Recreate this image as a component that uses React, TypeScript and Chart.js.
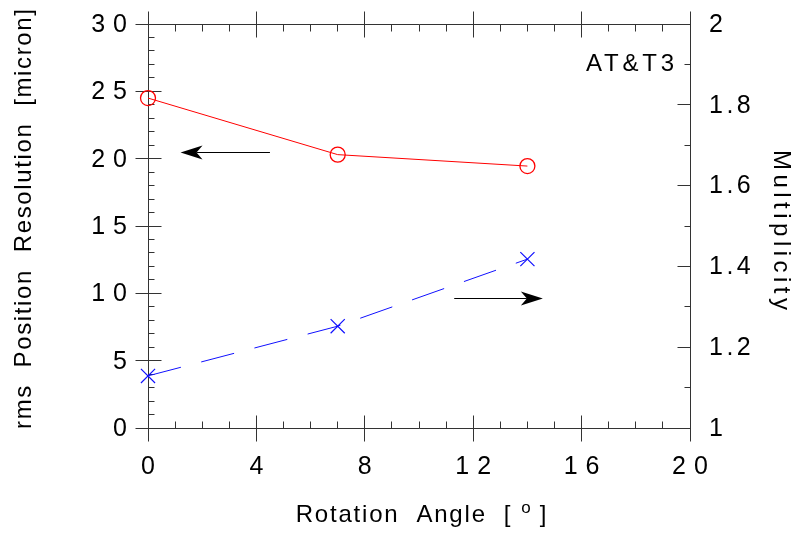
import { useEffect, useRef } from "react";
import { Chart, registerables } from "chart.js";

Chart.register(...registerables);

// ---- data ----
const rotationAngles = [0, 7, 14];
const rmsResolution = [24.5, 20.3, 19.45];
const multiplicity = [1.129, 1.252, 1.418];

const xTickValues = [0, 4, 8, 12, 16, 20];
const xTickLabels = ["0", "4", "8", "12", "16", "20"];
const leftTickValues = [0, 5, 10, 15, 20, 25, 30];
const leftTickLabels = ["0", "5", "10", "15", "20", "25", "30"];
const rightTickValues = [1, 1.2, 1.4, 1.6, 1.8, 2];
const rightTickLabels = ["1", "1.2", "1.4", "1.6", "1.8", "2"];
const xMinorValues = [1, 2, 3, 5, 6, 7, 9, 10, 11, 13, 14, 15, 17, 18, 19];
const leftMinorValues = [1, 2, 3, 4, 6, 7, 8, 9, 11, 12, 13, 14, 16, 17, 18, 19, 21, 22, 23, 24, 26, 27, 28, 29];
const rightMinorValues = [1.1, 1.3, 1.5, 1.7, 1.9];

// arrows: [xFrom, xTo, y] in data units
const leftArrow = [4.5, 1.2, 20.5]; // on left axis
const rightArrow = [11.3, 14.57, 1.321]; // on right axis

const xTitle = "Rotation  Angle  [";
const xTitleSup = "o";
const xTitleEnd = "]";
const leftTitle = "rms  Position  Resolution  [micron]";
const rightTitle = "Multiplicity";
const tag = "AT&T3";

const FONT = '"Liberation Sans", Arial, Helvetica, sans-serif';
const AXIS = "#333333";

function measure(ctx: CanvasRenderingContext2D, s: string, size: number) {
  ctx.font = `${size}px ${FONT}`;
  (ctx as any).letterSpacing = "0px";
  return ctx.measureText(s).width;
}

function drawSpaced(
  ctx: CanvasRenderingContext2D,
  s: string,
  x: number,
  y: number,
  size: number,
  ls: number,
  align: "left" | "right" | "center"
) {
  const w0 = measure(ctx, s, size);
  const w = w0 + ls * (s.length - 1);
  const sx = align === "left" ? x : align === "right" ? x - w : x - w / 2;
  (ctx as any).letterSpacing = `${ls}px`;
  ctx.textAlign = "left";
  ctx.fillText(s, sx, y);
  (ctx as any).letterSpacing = "0px";
  return w;
}

function fitLs(ctx: CanvasRenderingContext2D, s: string, size: number, target: number) {
  const w0 = measure(ctx, s, size);
  return (target - w0) / (s.length - 1);
}

function drawArrow(ctx: CanvasRenderingContext2D, x1: number, x2: number, yy: number) {
  const y = Math.round(yy) + 0.5;
  const dir = Math.sign(x2 - x1);
  const headLen = 22;
  const half = 7;
  const notch = 6;
  ctx.strokeStyle = "#000";
  ctx.fillStyle = "#000";
  ctx.lineWidth = 1;
  ctx.beginPath();
  ctx.moveTo(x1, y);
  ctx.lineTo(x2 - dir * (headLen - notch), y);
  ctx.stroke();
  ctx.beginPath();
  ctx.moveTo(x2, y);
  ctx.lineTo(x2 - dir * headLen, y - half);
  ctx.lineTo(x2 - dir * (headLen - notch), y);
  ctx.lineTo(x2 - dir * headLen, y + half);
  ctx.closePath();
  ctx.fill();
}

const framePlugin = {
  id: "frame",
  beforeDatasetsDraw(chart: any) {
    const { ctx, chartArea: a, scales } = chart;
    const xs = scales.x, yl = scales.y, yr = scales.y2;
    const L = Math.floor(a.left) + 0.5;
    const R = Math.floor(a.right) + 0.5;
    const T = Math.floor(a.top) + 0.5;
    const B = Math.floor(a.bottom) + 0.5;
    ctx.save();
    ctx.strokeStyle = AXIS;
    ctx.lineWidth = 1;
    ctx.beginPath();
    ctx.moveTo(L, T);
    ctx.lineTo(R, T);
    ctx.lineTo(R, B);
    ctx.lineTo(L, B);
    ctx.closePath();
    xTickValues.forEach((v) => {
      const p = Math.floor(xs.getPixelForValue(v)) + 0.5;
      ctx.moveTo(p, B - 13);
      ctx.lineTo(p, B + 13);
      ctx.moveTo(p, T - 13);
      ctx.lineTo(p, T + 13);
    });
    xMinorValues.forEach((v) => {
      const p = Math.floor(xs.getPixelForValue(v)) + 0.5;
      ctx.moveTo(p, B - 7);
      ctx.lineTo(p, B);
      ctx.moveTo(p, T);
      ctx.lineTo(p, T + 7);
    });
    leftTickValues.forEach((v) => {
      const p = Math.floor(yl.getPixelForValue(v)) + 0.5;
      ctx.moveTo(L - 13, p);
      ctx.lineTo(L + 13, p);
    });
    leftMinorValues.forEach((v) => {
      const p = Math.floor(yl.getPixelForValue(v)) + 0.5;
      ctx.moveTo(L, p);
      ctx.lineTo(L + 6, p);
    });
    rightTickValues.forEach((v) => {
      const p = Math.floor(yr.getPixelForValue(v)) + 0.5;
      ctx.moveTo(R - 13, p);
      ctx.lineTo(R, p);
    });
    rightMinorValues.forEach((v) => {
      const p = Math.floor(yr.getPixelForValue(v)) + 0.5;
      ctx.moveTo(R - 6, p);
      ctx.lineTo(R, p);
    });
    ctx.stroke();

    drawArrow(ctx, xs.getPixelForValue(leftArrow[0]), xs.getPixelForValue(leftArrow[1]), yl.getPixelForValue(leftArrow[2]));
    drawArrow(ctx, xs.getPixelForValue(rightArrow[0]), xs.getPixelForValue(rightArrow[1]), yr.getPixelForValue(rightArrow[2]));
    ctx.restore();
  },
  afterDraw(chart: any) {
    const { ctx, chartArea: a, scales } = chart;
    const xs = scales.x, yl = scales.y, yr = scales.y2;
    ctx.save();
    ctx.fillStyle = "#000";
    ctx.textBaseline = "middle";
    const TS = 25;
    leftTickValues.forEach((v, i) => {
      drawSpaced(ctx, leftTickLabels[i], a.left - 21, yl.getPixelForValue(v) + 1, TS, 8, "right");
    });
    rightTickValues.forEach((v, i) => {
      drawSpaced(ctx, rightTickLabels[i], a.right + 19, yr.getPixelForValue(v) + 1, TS, 3.5, "left");
    });
    xTickValues.forEach((v, i) => {
      drawSpaced(ctx, xTickLabels[i], xs.getPixelForValue(v), a.bottom + 39, TS, 8, "center");
    });

    // x title with superscript
    ctx.textBaseline = "alphabetic";
    const size = 24;
    const ls = 1.8;
    const w1 = measure(ctx, xTitle, size) + ls * xTitle.length;
    const w2 = measure(ctx, xTitleSup, 17) + 9;
    const w3 = measure(ctx, xTitleEnd, size);
    const total = w1 + 9 + w2 + w3;
    let sx = (a.left + a.right) / 2 + 2 - total / 2;
    const by = a.bottom + 94;
    drawSpaced(ctx, xTitle, sx, by, size, ls, "left");
    sx += w1 + 9;
    drawSpaced(ctx, xTitleSup, sx, by - 9, 17, 0, "left");
    sx += w2;
    drawSpaced(ctx, xTitleEnd, sx, by, size, 0, "left");

    // left title (rotated)
    ctx.textBaseline = "middle";
    ctx.save();
    ctx.translate(24, 219);
    ctx.rotate(-Math.PI / 2);
    drawSpaced(ctx, leftTitle, 0, 0, 24, fitLs(ctx, leftTitle, 24, 420), "center");
    ctx.restore();

    // right title (rotated)
    ctx.save();
    ctx.translate(781, 230);
    ctx.rotate(Math.PI / 2);
    drawSpaced(ctx, rightTitle, 0, 0, 24, fitLs(ctx, rightTitle, 24, 160), "center");
    ctx.restore();

    // tag
    drawSpaced(ctx, tag, a.right - 16, a.top + 40, 24, fitLs(ctx, tag, 24, 88), "right");
    ctx.restore();
  },
};

export default function App() {
  const ref = useRef<HTMLCanvasElement>(null);
  useEffect(() => {
    document.body.style.margin = "0";
    const chart = new Chart(ref.current as HTMLCanvasElement, {
      type: "line",
      data: {
        datasets: [
          {
            label: "rms resolution",
            data: rotationAngles.map((x, i) => ({ x, y: rmsResolution[i] })),
            yAxisID: "y",
            borderColor: "#ff0000",
            borderWidth: 1,
            pointStyle: "circle",
            pointRadius: 7.5,
            pointBorderWidth: 1.3,
            pointBackgroundColor: "rgba(0,0,0,0)",
            pointBorderColor: "#ff0000",
            fill: false,
            tension: 0,
            clip: false,
          } as any,
          {
            label: "multiplicity",
            data: rotationAngles.map((x, i) => ({ x, y: multiplicity[i] })),
            yAxisID: "y2",
            borderColor: "#1010ff",
            borderWidth: 1,
            borderDash: [34, 21],
            pointStyle: "crossRot",
            pointRadius: 10,
            pointBorderWidth: 1.2,
            pointBorderColor: "#1010ff",
            pointBackgroundColor: "rgba(0,0,0,0)",
            fill: false,
            tension: 0,
            clip: false,
          } as any,
        ],
      },
      options: {
        animation: false,
        responsive: true,
        maintainAspectRatio: false,
        layout: { padding: { top: 24, left: 0, right: 0, bottom: 0 } },
        plugins: { legend: { display: false }, tooltip: { enabled: false } },
        scales: {
          x: {
            type: "linear",
            min: 0,
            max: 20,
            grid: { display: false },
            border: { display: false },
            ticks: { display: false },
            afterFit: (s: any) => {
              s.height = 105;
            },
          },
          y: {
            type: "linear",
            position: "left",
            min: 0,
            max: 30,
            grid: { display: false },
            border: { display: false },
            ticks: { display: false },
            afterFit: (s: any) => {
              s.width = 148;
            },
          },
          y2: {
            type: "linear",
            position: "right",
            min: 1,
            max: 2,
            grid: { display: false },
            border: { display: false },
            ticks: { display: false },
            afterFit: (s: any) => {
              s.width = 109;
            },
          },
        },
      } as any,
      plugins: [framePlugin],
    });
    return () => chart.destroy();
  }, []);
  return (
    <div style={{ position: "absolute", left: 0, top: 0, width: 799, height: 533, background: "#fff" }}>
      <canvas ref={ref} />
    </div>
  );
}
